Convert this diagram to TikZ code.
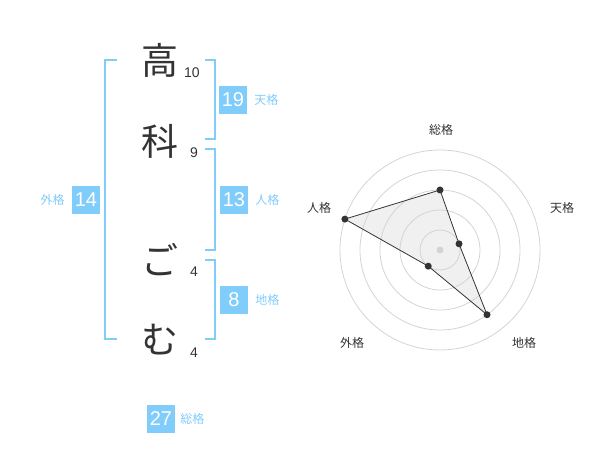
\documentclass[tikz,border=0pt]{standalone}
\usepackage{fontspec}
\setmainfont{Liberation Sans}
\newfontfamily\jpfont{Noto Sans CJK JP}
\usepackage{tikz}
\usetikzlibrary{positioning}
\definecolor{kakublue}{RGB}{128,204,250}
\definecolor{kakutext}{RGB}{51,51,51}
\definecolor{ringgray}{RGB}{212,212,212}

\begin{document}
\begin{tikzpicture}[x=1pt,y=-1pt,
	kanji/.style={font=\jpfont\fontsize{37}{37}\selectfont, text=kakutext, inner sep=0pt},
	strokes/.style={font=\fontsize{14}{14}\selectfont, text=kakutext, inner sep=0pt},
	kakubox/.style={fill=kakublue, text=white, minimum width=28pt, minimum height=28pt, inner sep=0pt, font=\fontsize{20}{20}\selectfont},
	kakuname/.style={font=\jpfont\fontsize{12}{12}\selectfont, text=kakublue, inner sep=0pt},
	bracket/.style={draw=kakublue, line width=2pt},
	axisname/.style={font=\jpfont\fontsize{12}{12}\selectfont, text=kakutext, inner sep=0pt},
	ring/.style={draw=ringgray, line width=0.8pt},
	dot/.style={circle, fill=kakutext, inner sep=0pt, minimum size=7pt}]
				\useasboundingbox (0,0) rectangle (600,470);

				\node[kanji] (c1) at (160,60) {高};
				\node[kanji] (c2) at (160,141) {科};
				\node[kanji] (c3) at (160,260) {ご};
				\node[kanji] (c4) at (160,340) {む};
				\node[strokes] (s1) at (192,73) {10};
				\node[strokes] (s2) at (194,153) {9};
				\node[strokes] (s3) at (194,272) {4};
				\node[strokes] (s4) at (194,353) {4};

				\draw[bracket] (117,60) -- (105,60) -- (105,339) -- (117,339);
				\draw[bracket] (205,60) -- (215,60) -- (215,139) -- (205,139);
				\draw[bracket] (205,149) -- (215,149) -- (215,250) -- (205,250);
				\draw[bracket] (205,260) -- (215,260) -- (215,339) -- (205,339);

				\node[kakubox] (ten) at (233,100) {19};
				\node[kakuname, right=7pt of ten] (tenname) {天格};
				\node[kakubox] (jin) at (234,200) {13};
				\node[kakuname, right=7pt of jin] (jinname) {人格};
				\node[kakubox] (chi) at (234,300) {8};
				\node[kakuname, right=7pt of chi] (chiname) {地格};
				\node[kakubox] (gai) at (86,200) {14};
				\node[kakuname, left=7pt of gai] (gainame) {外格};
				\node[kakubox] (sou) at (161,419) {27};
				\node[kakuname, right=5pt of sou] (souname) {総格};

				\begin{scope}[shift={(440,250)}]
				\coordinate (radar) at (0,0);
				\foreach \name/\ang/\val/\lx/\ly/\txt in {sou/-90/3/1/-120/総格, ten/-18/1/122/-42/天格, chi/54/4/84/93/地格, gai/126/1/-88/93/外格, jin/198/5/-121/-42/人格}{
					\coordinate (p\name) at (\ang:{20*\val});
					\node[axisname] (a\name) at (\lx,\ly) {\txt};
				}
				\fill[gray, fill opacity=0.12] (psou) -- (pten) -- (pchi) -- (pgai) -- (pjin) -- cycle;
				\foreach \r in {20,40,...,100}
					\draw[ring] (radar) circle (\r);
				\fill[ringgray] (radar) circle (3.5);
				\draw[kakutext, line width=0.8pt] (psou) -- (pten) -- (pchi) -- (pgai) -- (pjin) -- cycle;
				\foreach \name in {sou,ten,chi,gai,jin}
					\node[dot] (d\name) at (p\name) {};
				\end{scope}
				\end{tikzpicture}
\end{document}
